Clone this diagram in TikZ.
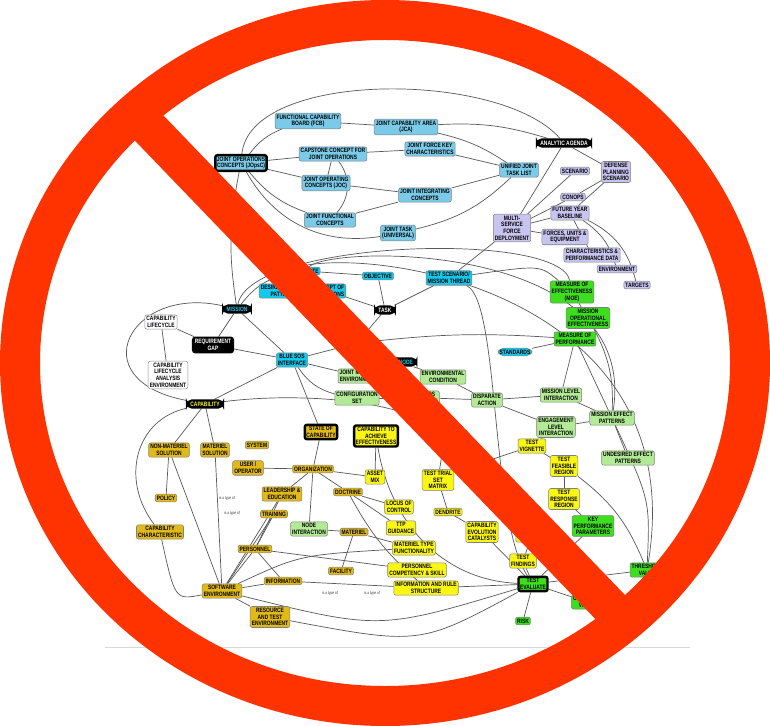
\documentclass[tikz,border=0pt]{standalone}
\usepackage{fontspec}
\newfontfamily\MapFont[FakeStretch=0.78]{Liberation Sans}
\usepackage{xcolor}
\definecolor{ColSky}{RGB}{122,202,232}
\definecolor{ColCyan}{RGB}{20,200,236}
\definecolor{ColLilac}{RGB}{200,196,240}
\definecolor{ColLime}{RGB}{60,222,30}
\definecolor{ColMint}{RGB}{178,234,150}
\definecolor{ColLemon}{RGB}{250,246,20}
\definecolor{ColGold}{RGB}{226,186,24}
\definecolor{ColSign}{RGB}{255,51,0}
\usepackage{tikz}
\usetikzlibrary{backgrounds}
\tikzstyle{Concept}=[rectangle,rounded corners=1.2pt,draw=black!50,
line width=.3pt,inner sep=.9pt,align=center,
font=\MapFont\bfseries\fontsize{3.6}{3.8}\selectfont]
\tikzstyle{Sky}=[Concept,fill=ColSky]
\tikzstyle{Cyan}=[Concept,fill=ColCyan]
\tikzstyle{Lilac}=[Concept,fill=ColLilac]
\tikzstyle{Lime}=[Concept,fill=ColLime]
\tikzstyle{Mint}=[Concept,fill=ColMint]
\tikzstyle{Lemon}=[Concept,fill=ColLemon]
\tikzstyle{Gold}=[Concept,fill=ColGold]
\tikzstyle{Hub}=[Concept,rounded corners=3pt,fill=black,draw=black,
line width=1pt,inner xsep=2pt]
\tikzstyle{Key}=[line width=1.4pt,draw=black]
\tikzstyle{Edge}=[draw=black!65,line width=.4pt]
\tikzstyle{Link}=[inner sep=0pt,fill=white,text=black!75,align=center,
font=\MapFont\fontsize{2.4}{2.6}\selectfont]
\tikzstyle{Ring}=[draw=ColSign,line width=0.8cm]
\tikzstyle{Bar}=[draw=ColSign,line width=0.76cm]

\begin{document}
\begin{tikzpicture}[x=0.02cm,y=-0.02cm]
    \useasboundingbox(0,0)rectangle(770,726);
    % top cluster
    \node[Sky](fcb)at(308,121){FUNCTIONAL CAPABILITY\\BOARD (FCB)};
    \node[Sky](jca)at(406,127){JOINT CAPABILITY AREA\\(JCA)};
    \node[Sky,Key](jopsc)at(241,163){JOINT OPERATIONS\\CONCEPTS (JOpsC)};
    \node[Sky](capst)at(333,154){CAPSTONE CONCEPT FOR\\JOINT OPERATIONS};
    \node[Sky](jfkc)at(430,149){JOINT FORCE KEY\\CHARACTERISTICS};
    \node[Sky](joc)at(326,183){JOINT OPERATING\\CONCEPTS (JOC)};
    \node[Sky](jic)at(425,195){JOINT INTEGRATING\\CONCEPTS};
    \node[Sky](jfc)at(330,220){JOINT FUNCTIONAL\\CONCEPTS};
    \node[Sky](jtask)at(398,233){JOINT TASK\\(UNIVERSAL)};
    \node[Sky](ujtl)at(519,170){UNIFIED JOINT\\TASK LIST};
    \node[Hub,text=white](agenda)at(564,143){ANALYTIC AGENDA};
    \node[Lilac](scen)at(575,171){SCENARIO};
    \node[Lilac](dps)at(616,172){DEFENSE\\PLANNING\\SCENARIO};
    \node[Lilac](conops)at(573,197){CONOPS};
    \node[Lilac](fyb)at(570,213){FUTURE YEAR\\BASELINE};
    \node[Lilac](msfd)at(512,228){MULTI-\\SERVICE\\FORCE\\DEPLOYMENT};
    \node[Lilac](fue)at(565,237){FORCES, UNITS \&\\EQUIPMENT};
    \node[Lilac](cpd)at(592,255){CHARACTERISTICS \&\\PERFORMANCE DATA};
    \node[Lilac](env)at(617,269){ENVIRONMENT};
    \node[Lilac](targ)at(637,285){TARGETS};
    % middle cluster
    \node[Cyan](endst)at(305,271){END STATE};
    \node[Cyan](obj)at(378,276){OBJECTIVE};
    \node[Cyan](tsmt)at(449,278){TEST SCENARIO/\\MISSION THREAD};
    \node[Cyan](dep)at(282,291){DESIRED EFFECT\\PATTERN};
    \node[Cyan](coo)at(328,291){CONCEPT OF\\OPERATIONS};
    \node[Hub,text=white](task)at(385,310){TASK};
    \node[Hub,text=ColCyan](mission)at(237,309){MISSION};
    \node[Concept,draw=ColLilac!70!black,fill=white](clc)at(161,322)
        {CAPABILITY\\LIFECYCLE};
    \node[Concept,Key,fill=black,text=white](req)at(213,345)
        {REQUIREMENT\\GAP};
    \node[Concept,draw=ColLilac!70!black,fill=white](clae)at(168,375)
        {CAPABILITY\\LIFECYCLE\\ANALYSIS\\ENVIRONMENT};
    \node[Cyan](sos)at(292,360){BLUE SOS\\INTERFACE};
    \node[Hub,text=ColLemon](capab)at(205,404){CAPABILITY};
    \node[Hub,text=ColCyan](act)at(357,343){ACTIVITY};
    \node[Hub,text=ColCyan](hub2)at(400,362){SOS NODE};
    \node[Mint](jme)at(358,376){JOINT MISSION\\ENVIRONMENT};
    \node[Mint](conf)at(357,398){CONFIGURATION\\SET};
    \node[Mint](envc)at(443,377){ENVIRONMENTAL\\CONDITION};
    \node[Mint](sosst)at(430,398){SOS\\STATE};
    \node[Mint](disp)at(487,400){DISPARATE\\ACTION};
    \node[Cyan,rounded corners=3pt](stds)at(515,352){STANDARDS};
    % measures
    \node[Lime](moe)at(572,292){MEASURE OF\\EFFECTIVENESS\\(MOE)};
    \node[Lime](moe2)at(588,318){MISSION\\OPERATIONAL\\EFFECTIVENESS};
    \node[Lime](mop)at(575,339){MEASURE OF\\PERFORMANCE};
    \node[Mint](mli)at(561,395){MISSION LEVEL\\INTERACTION};
    \node[Mint](mep)at(612,418){MISSION EFFECT\\PATTERNS};
    \node[Mint](eli)at(556,427){ENGAGEMENT\\LEVEL\\INTERACTION};
    \node[Mint](uep)at(628,458){UNDESIRED EFFECT\\PATTERNS};
    \node[Lemon](tvig)at(532,446){TEST\\VIGNETTE};
    \node[Lemon](tfr)at(564,466){TEST\\FEASIBLE\\REGION};
    \node[Lemon](trr)at(564,499){TEST\\RESPONSE\\REGION};
    \node[Lime](kpp)at(593,526){KEY\\PERFORMANCE\\PARAMETERS};
    \node[Lemon](cec)at(482,532){CAPABILITY\\EVOLUTION\\CATALYSTS};
    \node[Lemon](csol)at(532,535){CAPABILITY\\SOLUTION};
    \node[Lemon](tfind)at(523,561){TEST\\FINDINGS};
    \node[Lime,Key](teval)at(533,584){TEST\\EVALUATE};
    \node[Lime](thr)at(647,570){THRESHOLD\\VALUE};
    \node[Lime](objv)at(587,602){OBJECTIVE\\VALUE};
    \node[Lime](risk)at(523,621){RISK};
    % solutions
    \node[Gold](nms)at(169,450){NON-MATERIEL\\SOLUTION};
    \node[Gold](ms)at(215,450){MATERIEL\\SOLUTION};
    \node[Gold](sys)at(257,445){SYSTEM};
    \node[Gold](user)at(248,468){USER /\\OPERATOR};
    \node[Gold](org)at(313,469){ORGANIZATION};
    \node[Gold](pol)at(166,498){POLICY};
    \node[Gold](lead)at(282,494){LEADERSHIP \&\\EDUCATION};
    \node[Gold](train)at(274,514){TRAINING};
    \node[Gold](doct)at(348,492){DOCTRINE};
    \node[Lemon](asset)at(375,477){ASSET\\MIX};
    \node[Mint](nodeint)at(309,529){NODE\\INTERACTION};
    \node[Lemon](locus)at(399,507){LOCUS OF\\CONTROL};
    \node[Gold](mat)at(354,532){MATERIEL};
    \node[Lemon](ttp)at(401,528){TTP\\GUIDANCE};
    \node[Gold](cchar)at(160,532){CAPABILITY\\CHARACTERISTIC};
    \node[Gold](pers)at(255,549){PERSONNEL};
    \node[Gold](info)at(283,581){INFORMATION};
    \node[Gold](fac)at(341,571){FACILITY};
    \node[Lemon](mtf)at(414,548){MATERIEL TYPE\\FUNCTIONALITY};
    \node[Lemon](pcs)at(417,570){PERSONNEL\\COMPETENCY \& SKILL};
    \node[Lemon](irs)at(426,588){INFORMATION AND RULE\\STRUCTURE};
    \node[Gold](softw)at(222,591){SOFTWARE\\ENVIRONMENT};
    \node[Gold](rte)at(270,617){RESOURCE\\AND TEST\\ENVIRONMENT};
    \node[Gold,Key](stoc)at(321,432){STATE OF\\CAPABILITY};
    \node[Lemon,Key](cache)at(376,436){CAPABILITY TO\\ACHIEVE\\EFFECTIVENESS};
    \node[Lemon](tobj)at(445,434){TEST OBJECTIVE};
    \node[Lemon](ttm)at(438,480){TEST TRIAL\\SET\\MATRIX};
    \node[Lemon](dend)at(448,512){DENDRITE};
    \node[Lemon](tdes)at(475,465){TEST\\DESIGN};
    \node[Link](l1)at(227,498){is a type of};
    \node[Link](l2)at(232,513){is a type of};
    \node[Link](l3)at(330,593){is a type of};
    \node[Link](l4)at(372,593){is a type of};
    \begin{scope}[on background layer]
        \fill[white](0,0)rectangle(770,726);
        \draw[Edge](fcb)--(jca);
        \draw[Edge](jopsc)to[bend left=15](fcb);
        \draw[Edge](jopsc)--(capst);
        \draw[Edge](capst)--(jfkc);
        \draw[Edge](capst)--(joc);
        \draw[Edge](capst)to[bend left=40](jfc);
        \draw[Edge](jopsc)--(joc);
        \draw[Edge](jopsc)to[bend right=15](jfc);
        \draw[Edge](joc)--(jic);
        \draw[Edge](jfc)--(jic);
        \draw[Edge](jopsc)to[bend right=35](jtask);
        \draw[Edge](ujtl)--(jfkc);
        \draw[Edge](ujtl)--(jic);
        \draw[Edge](ujtl)to[bend right=10](jca);
        \draw[Edge](ujtl)to[bend left=15](jtask);
        \draw[Edge](jca)to[bend left=10](agenda);
        \draw[Edge](agenda)--(dps);
        \draw[Edge](agenda)--(msfd);
        \draw[Edge](msfd)--(scen);
        \draw[Edge](msfd)--(conops);
        \draw[Edge](msfd)--(fyb);
        \draw[Edge](msfd)--(fue);
        \draw[Edge](dps)--(conops);
        \draw[Edge](dps)--(fyb);
        \draw[Edge](fyb)--(cpd);
        \draw[Edge](fyb)to[bend left=20](env);
        \draw[Edge](fyb)to[bend left=25](targ);
        \draw[Edge](jopsc)..controls(250,70)and(500,70)..(agenda);
        \draw[Edge](jopsc)to[bend right=10](mission);
        \draw[Edge](mission)..controls(250,240)and(560,230)..(moe);
        \draw[Edge](endst)..controls(330,245)and(640,240)..(mep);
        \draw[Edge](dep)..controls(260,235)and(700,250)..(thr);
        \draw[Edge](msfd)--(tsmt);
        \draw[Edge](tsmt)..controls(500,300)and(490,520)..(teval);
        % middle
        \draw[Edge](mission)to[bend left=20](endst);
        \draw[Edge](mission)--(req);
        \draw[Edge](req)--(clc);
        \draw[Edge](clc)--(clae);
        \draw[Edge](mission)--(sos);
        \draw[Edge](req)--(sos);
        \draw[Edge](mission)..controls(130,285)and(80,380)..(capab);
        \draw[Edge](capab)--(sos);
        \draw[Edge](capab)..controls(300,392)and(400,400)..(tobj);
        \draw[Edge](endst)--(obj);
        \draw[Edge](dep)--(coo);
        \draw[Edge](obj)--(task);
        \draw[Edge](coo)--(task);
        \draw[Edge](tsmt)--(task);
        \draw[Edge](task)--(act);
        \draw[Edge](act)--(sos);
        \draw[Edge](act)--(hub2);
        \draw[Edge](act)to[bend left=5](mop);
        \draw[Edge](hub2)--(jme);
        \draw[Edge](sos)--(jme);
        \draw[Edge](sos)to[bend right=20](conf);
        \draw[Edge](sos)--(stoc);
        \draw[Edge](hub2)--(envc);
        \draw[Edge](conf)--(sosst);
        \draw[Edge](sosst)--(disp);
        \draw[Edge](envc)--(disp);
        \draw[Edge](disp)--(mli);
        \draw[Edge](disp)--(eli);
        \draw[Edge](mli)--(mop);
        \draw[Edge](mop)--(stds);
        \draw[Edge](moe)--(moe2);
        \draw[Edge](moe2)to[bend left=15](mep);
        \draw[Edge](mop)--(mep);
        \draw[Edge](mli)--(mep);
        \draw[Edge](eli)--(mep);
        \draw[Edge](mep)--(uep);
        \draw[Edge](eli)--(tvig);
        \draw[Edge](tsmt)..controls(540,265)..(moe);
        \draw[Edge](mep)..controls(650,500)..(thr);
        % solutions
        \draw[Edge](capab)--(nms);
        \draw[Edge](capab)--(ms);
        \draw[Edge](nms)--(pol);
        \draw[Edge](nms)--(softw);
        \draw[Edge](ms)--(softw);
        \draw[Edge](capab)..controls(135,420)and(120,480)..(cchar);
        \draw[Edge](cchar)..controls(175,600)..(softw);
        \draw[Edge](softw)--(lead);
        \draw[Edge](softw)--(train);
        \draw[Edge](softw)--(pers);
        \draw[Edge](softw)--(info);
        \draw[Edge](softw)--(rte);
        \draw[Edge](softw)..controls(300,555)..(mtf);
        \draw[Edge](softw)..controls(380,630)..(teval);
        \draw[Edge](rte)..controls(420,645)..(teval);
        \draw[Edge](user)--(org);
        \draw[Edge](org)--(lead);
        \draw[Edge](org)--(doct);
        \draw[Edge](org)--(nodeint);
        \draw[Edge](org)--(asset);
        \draw[Edge](stoc)--(org);
        \draw[Edge](doct)--(locus);
        \draw[Edge](doct)--(ttp);
        \draw[Edge](doct)to[bend right=10](irs);
        \draw[Edge](mat)--(mtf);
        \draw[Edge](mat)--(fac);
        \draw[Edge](mat)--(nodeint);
        \draw[Edge](lead)--(pers);
        \draw[Edge](train)--(pers);
        \draw[Edge](pers)--(info);
        \draw[Edge](pers)--(pcs);
        \draw[Edge](info)--(irs);
        \draw[Edge](cache)--(asset);
        \draw[Edge](cache)..controls(390,520)and(440,580)..(teval);
        \draw[Edge](tobj)--(ttm);
        \draw[Edge](tobj)--(tdes);
        \draw[Edge](ttm)--(dend);
        \draw[Edge](dend)--(cec);
        \draw[Edge](cec)--(teval);
        \draw[Edge](csol)--(tfind);
        \draw[Edge](tfind)--(teval);
        \draw[Edge](teval)--(risk);
        \draw[Edge](teval)--(objv);
        \draw[Edge](teval)--(thr);
        \draw[Edge](teval)--(irs);
        \draw[Edge](tdes)--(tvig);
        \draw[Edge](tvig)--(tfr);
        \draw[Edge](tfr)--(trr);
        \draw[Edge](tfr)to[bend left=15](thr);
        \draw[Edge](trr)--(kpp);
        \draw[Edge](kpp)--(teval);
        \draw[black!15](105,647)--(690,647);
    \end{scope}
    % the sign
    \begin{scope}
        \clip(385,363)ellipse[x radius=365,y radius=343];
        \draw[Bar](49,24)--(717,718);
    \end{scope}
    \draw[Ring](385,363)ellipse[x radius=365,y radius=343];
\end{tikzpicture}
\end{document}
